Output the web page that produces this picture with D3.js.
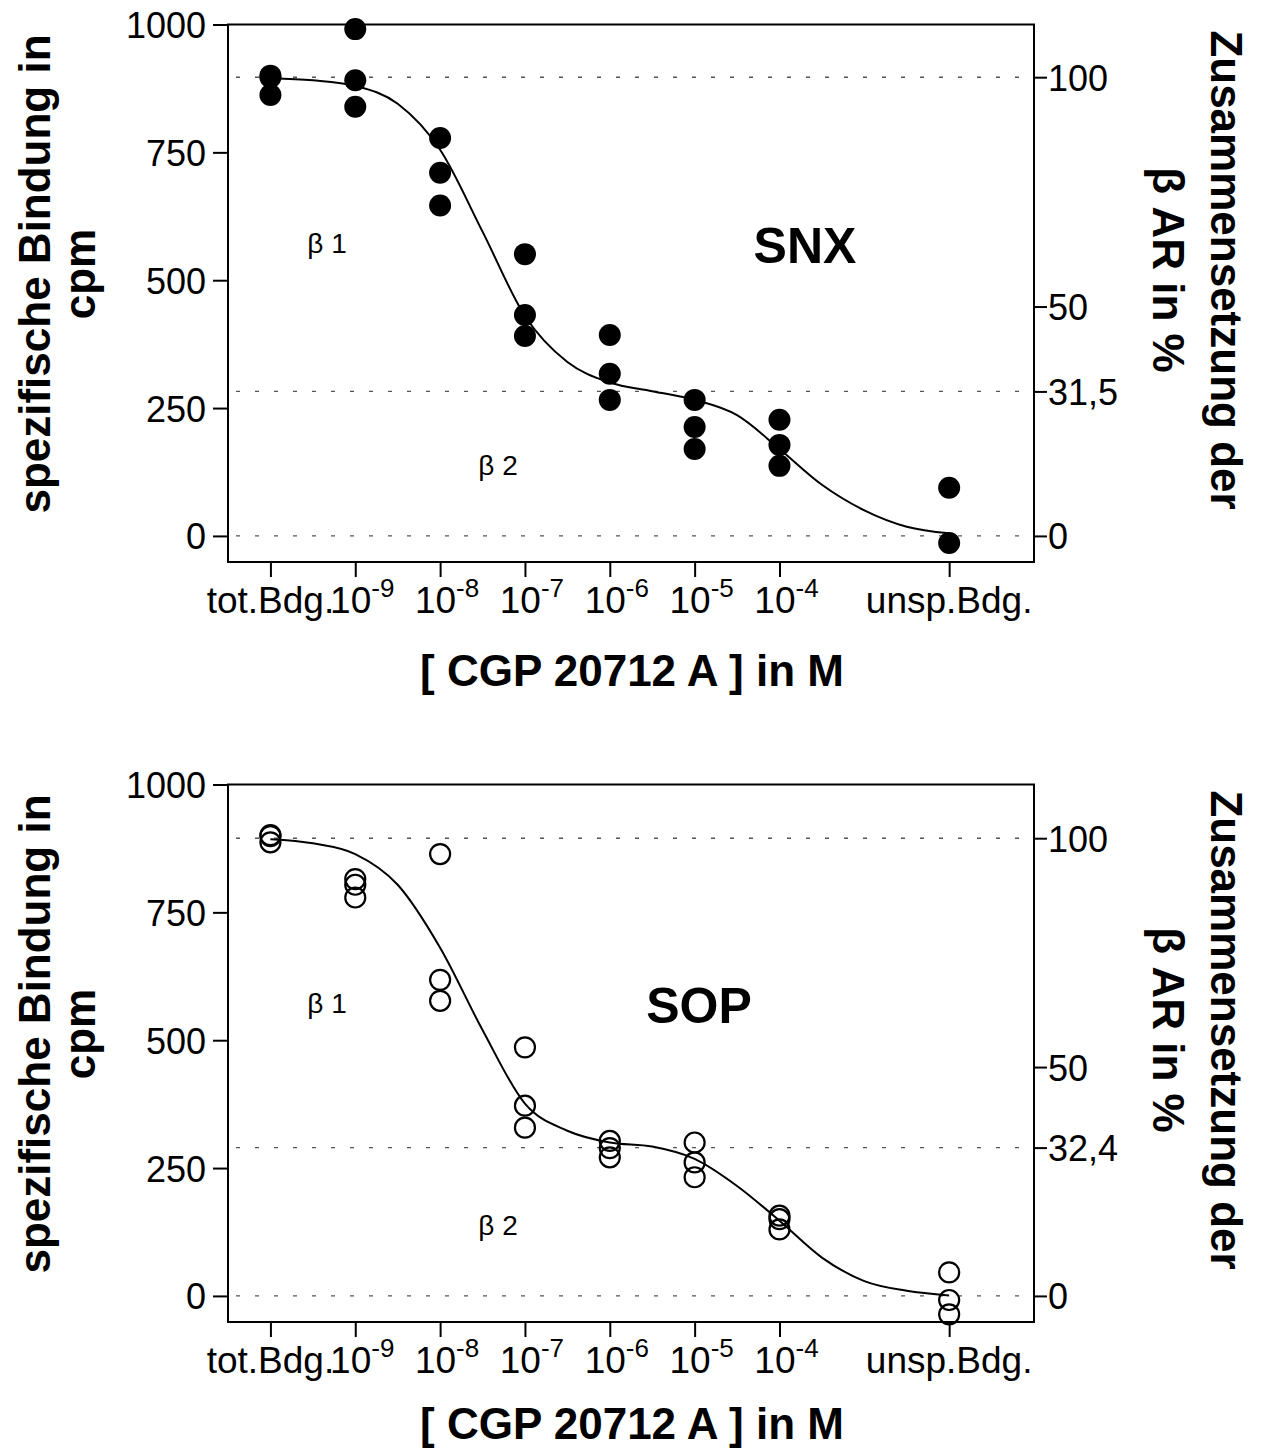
<!DOCTYPE html>
<html>
<head>
<meta charset="utf-8">
<script src="https://cdn.jsdelivr.net/npm/d3@7"></script>
<style>
  body { margin: 0; background: #fff; }
  text { font-family: "Liberation Sans", Arial, sans-serif; fill: #000; }
</style>
</head>
<body>
<div id="viz"></div>
<script>
// x categories: log10 of concentration, tot.Bdg. and unsp.Bdg. put at -10 and -2
const concLog = [-10, -9, -8, -7, -6, -5, -4, -2]
const concBase = ["tot.Bdg.", "10", "10", "10", "10", "10", "10", "unsp.Bdg."]
const concExp = ["", "-9", "-8", "-7", "-6", "-5", "-4", ""]

const yTicks = [0, 250, 500, 750, 1000]

// SNX, filled dots (cpm), one list per concentration
const snxValues = [
  [900, 897, 862], [991, 891, 839], [778, 710, 646], [551, 432, 391],
  [393, 317, 266], [266, 213, 170], [227, 178, 137], [94, -14]
]
// SNX fitted curve [log conc, cpm]
const snxCurve = [
  [-10, 895], [-9.5, 891], [-9, 880], [-8.5, 845], [-8, 755], [-7.5, 595],
  [-7, 430], [-6.5, 340], [-6, 300], [-5.5, 283], [-5, 266], [-4.5, 236],
  [-4, 170], [-3.5, 100], [-3, 50], [-2.5, 18], [-2, 5]
]
const snxTop = 897
const snxPctTicks = [0, 31.5, 50, 100]
const snxPctLabels = ["0", "31,5", "50", "100"]

// SOP, open circles
const sopValues = [
  [901, 899, 887], [815, 804, 779], [864, 618, 577], [486, 372, 329],
  [303, 289, 271], [300, 261, 232], [157, 150, 130], [46, -8, -36]
]
const sopCurve = [
  [-10, 893], [-9.5, 885], [-9, 864], [-8.5, 804], [-8, 681], [-7.5, 520],
  [-7, 376], [-6.5, 323], [-6, 300], [-5.5, 292], [-5, 268], [-4.5, 215],
  [-4, 147], [-3.5, 75], [-3, 29], [-2.5, 10], [-2, 1]
]
const sopTop = 895
const sopPctTicks = [0, 32.4, 50, 100]
const sopPctLabels = ["0", "32,4", "50", "100"]

const svg = d3.select("#viz")
              .append("svg")
              .attr("width", 1261)
              .attr("height", 1452)

// frame of one panel
const frame = { left: 228, right: 1034, top: 24.5, bottom: 562 }

const x = d3.scaleLinear()
            .domain([-10.5, -1])
            .range([frame.left, frame.right])

const y = d3.scaleLinear()
            .domain([-51, 1000])
            .range([frame.bottom, frame.top])

function drawPanel(offset, values, curve, topVal, pctTicks, pctLabels, name, nameX, titleY, filled) {
  const g = svg.append("g")
               .attr("transform", "translate(0," + offset + ")")

  // right axis in % of the top plateau
  const pct = d3.scaleLinear()
                .domain([0, 100])
                .range([y(0), y(topVal)])

  // dotted guide lines
  g.selectAll(".guide")
   .data([0, pctTicks[1], 100])
   .enter()
   .append("line")
   .attr("x1", frame.left + 8).attr("x2", frame.right - 2)
   .attr("y1", d => pct(d)).attr("y2", d => pct(d))
   .style("stroke", "#555")
   .style("stroke-width", 1.4)
   .style("stroke-dasharray", "4,15")

  // frame
  g.append("rect")
   .attr("x", frame.left).attr("y", frame.top)
   .attr("width", frame.right - frame.left).attr("height", frame.bottom - frame.top)
   .style("fill", "none")
   .style("stroke", "#000")
   .style("stroke-width", 2)

  // left axis
  const yAxis = g.append("g")
                 .attr("transform", "translate(" + frame.left + ",0)")
                 .call(d3.axisLeft(y).tickValues(yTicks).tickSize(15).tickPadding(7)
                         .tickFormat(d3.format("d")))
  yAxis.select(".domain").remove()
  yAxis.selectAll("line").style("stroke-width", 2)
  yAxis.selectAll("text").style("font-size", "36px").attr("dy", "0.36em")

  // right axis
  const rAxis = g.append("g")
                 .attr("transform", "translate(" + frame.right + ",0)")
                 .call(d3.axisRight(pct).tickValues(pctTicks).tickSize(13).tickPadding(1)
                         .tickFormat((d, i) => pctLabels[i]))
  rAxis.select(".domain").remove()
  rAxis.selectAll("line").style("stroke-width", 2)
  rAxis.selectAll("text").style("font-size", "36px").attr("dy", "0.36em")

  // bottom axis, labels drawn by hand for the superscripts
  const xAxis = g.append("g")
                 .attr("transform", "translate(0," + frame.bottom + ")")
                 .call(d3.axisBottom(x).tickValues(concLog).tickSize(15).tickFormat(""))
  xAxis.select(".domain").remove()
  xAxis.selectAll("line").style("stroke-width", 2)

  const lab = g.selectAll(".xlab")
               .data(concLog)
               .enter()
               .append("text")
               .attr("x", (d, i) => x(d) + (concExp[i] ? 7 : 0))
               .attr("y", frame.bottom + 51)
               .attr("text-anchor", "middle")
               .style("font-size", "37px")
  lab.append("tspan").text((d, i) => concBase[i])
  lab.append("tspan")
     .attr("dy", -16)
     .style("font-size", "26px")
     .text((d, i) => concExp[i])

  // curve
  g.append("path")
   .datum(curve)
   .attr("d", d3.line().x(d => x(d[0])).y(d => y(d[1])).curve(d3.curveMonotoneX))
   .style("fill", "none")
   .style("stroke", "#000")
   .style("stroke-width", 2)

  // points
  const pts = []
  values.forEach((vals, i) => vals.forEach(v => pts.push([concLog[i], v])))
  g.selectAll(".pt")
   .data(pts)
   .enter()
   .append("circle")
   .attr("cx", d => x(d[0]))
   .attr("cy", d => y(d[1]))
   .attr("r", filled ? 11 : 10)
   .style("fill", filled ? "#000" : "none")
   .style("stroke", "#000")
   .style("stroke-width", filled ? 0 : 2.2)

  // labels in the plot
  g.append("text").attr("x", nameX).attr("y", 263)
   .attr("text-anchor", "middle")
   .style("font-size", "50px").style("font-weight", "bold")
   .text(name)
  g.append("text").attr("x", 327).attr("y", 253)
   .attr("text-anchor", "middle").style("font-size", "28px")
   .text("β 1")
  g.append("text").attr("x", 498).attr("y", 475)
   .attr("text-anchor", "middle").style("font-size", "28px")
   .text("β 2")

  // axis titles
  g.append("text")
   .attr("transform", "translate(50,274) rotate(-90)")
   .attr("text-anchor", "middle")
   .style("font-size", "44px").style("font-weight", "bold")
   .text("spezifische Bindung in")
  g.append("text")
   .attr("transform", "translate(95,274) rotate(-90)")
   .attr("text-anchor", "middle")
   .style("font-size", "44px").style("font-weight", "bold")
   .text("cpm")
  g.append("text")
   .attr("transform", "translate(1211,270) rotate(90)")
   .attr("text-anchor", "middle")
   .style("font-size", "44px").style("font-weight", "bold")
   .text("Zusammensetzung der")
  g.append("text")
   .attr("transform", "translate(1153,270) rotate(90)")
   .attr("text-anchor", "middle")
   .style("font-size", "44px").style("font-weight", "bold")
   .text("β AR in %")
  g.append("text")
   .attr("x", 632).attr("y", titleY)
   .attr("text-anchor", "middle")
   .style("font-size", "44px").style("font-weight", "bold")
   .text("[ CGP 20712 A ] in M")
}

drawPanel(0, snxValues, snxCurve, snxTop, snxPctTicks, snxPctLabels, "SNX", 805, 686, true)
drawPanel(760, sopValues, sopCurve, sopTop, sopPctTicks, sopPctLabels, "SOP", 699, 679, false)
</script>
</body>
</html>
